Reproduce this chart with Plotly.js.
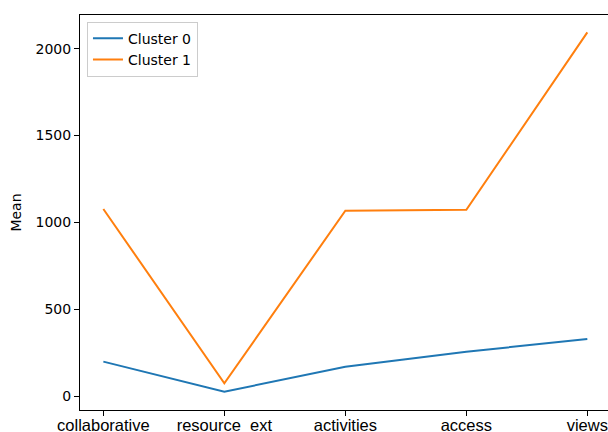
<!DOCTYPE html>
<html>
<head>
<meta charset="utf-8">
<script src="https://cdn.plot.ly/plotly-3.0.1.min.js"></script>
<style>
html, body { margin: 0; padding: 0; overflow: hidden; width: 608px; height: 432px; background: #fff; }
#chart { width: 616px; height: 440px; }
</style>
</head>
<body>
<div id="chart"></div>
<script>
const categories = ["collaborative", "resource_ext", "activities", "access", "views"];
const cluster0 = [198, 25, 168, 255, 328];
const cluster1 = [1077, 73, 1067, 1072, 2094];
const seriesNames = ["Cluster 0", "Cluster 1"];

const font = "DejaVu Sans, sans-serif";
const xfont = "Liberation Sans, Arial, sans-serif";
const traces = [
  { x: categories, y: cluster0, name: seriesNames[0], type: "scatter", mode: "lines",
    line: { color: "#1f77b4", width: 2 } },
  { x: categories, y: cluster1, name: seriesNames[1], type: "scatter", mode: "lines",
    line: { color: "#ff7f0e", width: 2 } }
];

const layout = {
  width: 616, height: 440,
  margin: { l: 80, r: 0, t: 15, b: 30 },
  paper_bgcolor: "#fff", plot_bgcolor: "#fff",
  font: { family: font, size: 14, color: "#000" },
  showlegend: true,
  legend: {
    x: 0.013, y: 0.983, xanchor: "left", yanchor: "top",
    bgcolor: "rgba(255,255,255,0.8)", bordercolor: "#cccccc", borderwidth: 1,
    itemwidth: 30,
    font: { family: font, size: 14, color: "#000" }
  },
  xaxis: {
    type: "category",
    range: [-0.193, 4.237],
    showgrid: false, zeroline: false,
    showline: true, linecolor: "#000", linewidth: 1, mirror: true,
    ticks: "outside", ticklen: 5, tickcolor: "#000",
    ticklabelstandoff: -5,
    tickfont: { family: xfont, size: 16.5, color: "#000" }
  },
  yaxis: {
    range: [-80.6, 2194],
    tickvals: [0, 500, 1000, 1500, 2000],
    showgrid: false, zeroline: false,
    showline: true, linecolor: "#000", linewidth: 1, mirror: true,
    ticks: "outside", ticklen: 5, tickcolor: "#000",
    tickfont: { family: font, size: 14, color: "#000" },
    title: { text: "Mean", font: { family: font, size: 14, color: "#000" }, standoff: 10 }
  }
};

Plotly.newPlot("chart", traces, layout, { displayModeBar: false, staticPlot: true });
</script>
</body>
</html>
